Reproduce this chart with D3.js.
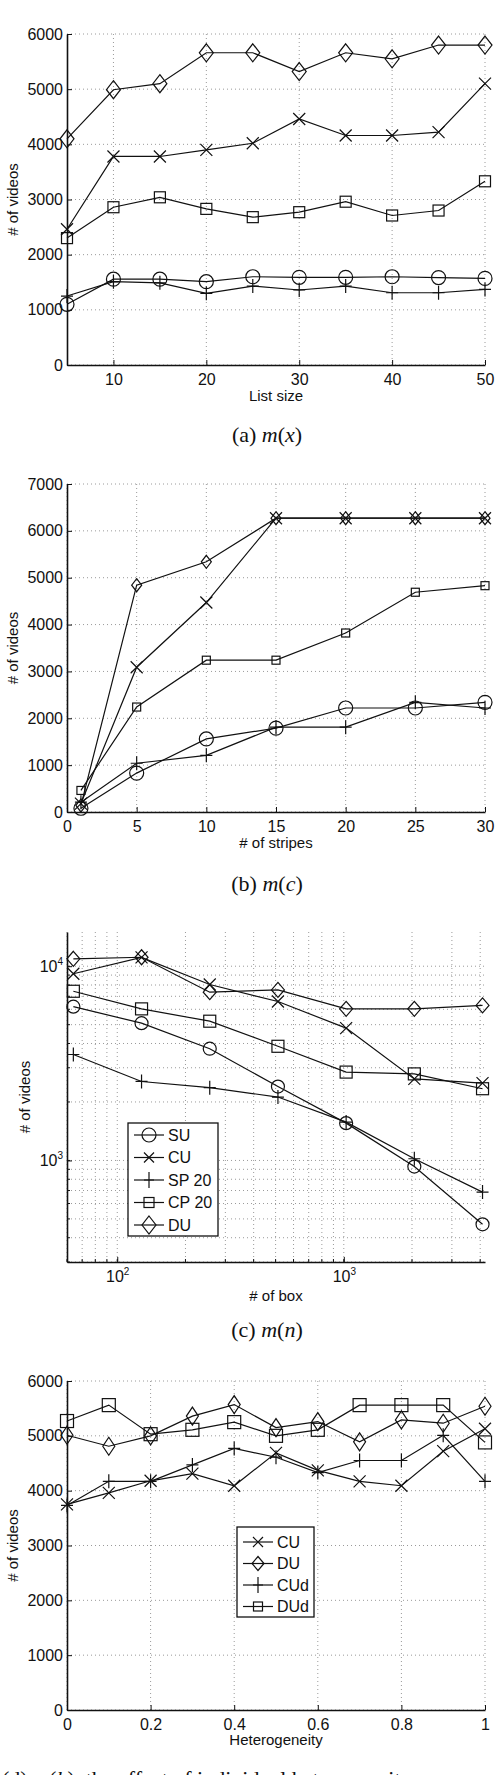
<!DOCTYPE html>
<html>
<head>
<meta charset="utf-8">
<script src="https://cdn.jsdelivr.net/npm/d3@7"></script>
<style>
  body { margin: 0; background: #fff; }
  text { font-family: "Liberation Sans", Arial, sans-serif; fill: #111; }
  .cap { font-family: "Liberation Serif", "DejaVu Serif", serif; }
</style>
</head>
<body>
<script>
// four stacked panels: m(x), m(c), m(n), m(h)

// (a) list size
var listSize = [5, 10, 15, 20, 25, 30, 35, 40, 45, 50];
var a_SU = [1100, 1555, 1555, 1510, 1600, 1590, 1590, 1600, 1585, 1570];
var a_CU = [2460, 3780, 3780, 3900, 4020, 4460, 4160, 4160, 4220, 5100];
var a_SP = [1250, 1510, 1490, 1300, 1430, 1360, 1430, 1310, 1310, 1370];
var a_CP = [2300, 2860, 3040, 2830, 2680, 2770, 2960, 2710, 2800, 3330];
var a_DU = [4100, 4990, 5100, 5660, 5660, 5320, 5660, 5550, 5800, 5800];
var aXTicks = [10, 20, 30, 40, 50];
var aYTicks = [0, 1000, 2000, 3000, 4000, 5000, 6000];

// (b) number of stripes
var stripes = [1, 5, 10, 15, 20, 25, 30];
var b_SU = [80, 830, 1560, 1790, 2220, 2220, 2340];
var b_CU = [180, 3090, 4470, 6270, 6270, 6270, 6270];
var b_SP = [210, 1040, 1210, 1810, 1810, 2340, 2220];
var b_CP = [460, 2240, 3240, 3240, 3820, 4690, 4830];
var b_DU = [140, 4840, 5340, 6270, 6270, 6270, 6270];
var bXTicks = [0, 5, 10, 15, 20, 25, 30];
var bYTicks = [0, 1000, 2000, 3000, 4000, 5000, 6000, 7000];

// (c) number of boxes (log-log)
var boxes = [64, 128, 256, 512, 1024, 2048, 4096];
var c_SU = [6190, 5090, 3760, 2400, 1556, 930, 469];
var c_CU = [9140, 11100, 8050, 6580, 4800, 2630, 2500];
var c_SP = [3510, 2550, 2370, 2120, 1575, 1020, 687];
var c_CP = [7430, 6030, 5210, 3870, 2850, 2790, 2340];
var c_DU = [10920, 11120, 7350, 7550, 6030, 6030, 6280];
var cXTicks = [100, 1000];
var cYTicks = [1000, 10000];

// (d) heterogeneity
var hetero = [0, 0.1, 0.2, 0.3, 0.4, 0.5, 0.6, 0.7, 0.8, 0.9, 1];
var d_CU = [3750, 3960, 4180, 4310, 4090, 4690, 4370, 4170, 4090, 4720, 5130];
var d_DU = [5010, 4810, 5000, 5360, 5570, 5150, 5260, 4890, 5290, 5230, 5540];
var d_CUd = [3730, 4170, 4170, 4470, 4770, 4610, 4330, 4550, 4550, 5010, 4170];
var d_DUd = [5270, 5560, 5030, 5110, 5250, 5000, 5110, 5560, 5560, 5560, 4880];
var dXTicks = [0, 0.2, 0.4, 0.6, 0.8, 1];
var dYTicks = [0, 1000, 2000, 3000, 4000, 5000, 6000];

var W = 496, H = 1775;
var X0 = 67, X1 = 485;

var svg = d3.select("body").append("svg")
    .attr("width", W)
    .attr("height", H);

svg.append("rect").attr("width", W).attr("height", H).attr("fill", "#fff");

// draw one marker shape, sz = [halfWidth, halfHeight]
function marker(g, shape, x, y, sz) {
  var hw = sz[0], hh = sz[1];
  var m = g.append("g").attr("transform", "translate(" + x + "," + y + ")")
      .attr("fill", "none").attr("stroke", "#111").attr("stroke-width", 1.2);
  if (shape == "circle") {
    m.append("circle").attr("r", hw);
  } else if (shape == "x") {
    m.append("path").attr("d", "M" + (-hw) + "," + (-hh) + "L" + hw + "," + hh + "M" + (-hw) + "," + hh + "L" + hw + "," + (-hh));
  } else if (shape == "plus") {
    m.append("path").attr("d", "M" + (-hw) + ",0L" + hw + ",0M0," + (-hh) + "L0," + hh);
  } else if (shape == "square") {
    m.append("rect").attr("x", -hw).attr("y", -hh).attr("width", 2 * hw).attr("height", 2 * hh);
  } else if (shape == "diamond") {
    m.append("path").attr("d", "M0," + (-hh) + "L" + hw + ",0L0," + hh + "L" + (-hw) + ",0Z");
  }
}

function drawPanel(p) {
  var g = svg.append("g");
  var x = p.x, y = p.y;

  // dotted grid
  g.selectAll(".vg").data(p.xGrid).enter().append("line")
    .attr("x1", function(d) { return x(d); }).attr("x2", function(d) { return x(d); })
    .attr("y1", p.top).attr("y2", p.bottom)
    .attr("stroke", "#9a9a9a").attr("stroke-width", 1).attr("stroke-dasharray", "1,3");
  g.selectAll(".hg").data(p.yGrid).enter().append("line")
    .attr("x1", X0).attr("x2", X1)
    .attr("y1", function(d) { return y(d); }).attr("y2", function(d) { return y(d); })
    .attr("stroke", "#9a9a9a").attr("stroke-width", 1).attr("stroke-dasharray", "1,3");

  // axes, ticks pointing inward like matlab
  var xa = d3.axisBottom(x).tickValues(p.xTicks).tickSizeInner(-5).tickSizeOuter(0).tickPadding(9)
      .tickFormat(p.xFormat || d3.format(""));
  var ya = d3.axisLeft(y).tickValues(p.yTicks).tickSizeInner(-5).tickSizeOuter(0).tickPadding(4)
      .tickFormat(p.yFormat || d3.format(""));
  var gx = g.append("g").attr("transform", "translate(0," + p.bottom + ")").call(xa);
  var gy = g.append("g").attr("transform", "translate(" + X0 + ",0)").call(ya);
  [gx, gy].forEach(function(ax) {
    ax.select(".domain").attr("stroke", "#111").attr("stroke-width", 1.6);
    ax.selectAll(".tick line").attr("stroke", "#111").attr("stroke-width", 1);
    ax.selectAll("text").attr("font-size", 16).attr("fill", "#111")
      .attr("font-family", "Liberation Sans, Arial, sans-serif");
  });
  if (p.log) {
    [gx, gy].forEach(function(ax) {
      ax.selectAll(".tick text").each(function(d) {
        var t = d3.select(this);
        t.text("10");
        t.append("tspan").attr("dy", -7).attr("font-size", 10).text(Math.round(Math.log10(d)));
      });
    });
    // minor ticks
    g.selectAll(".mx").data(p.xGrid).enter().append("line")
      .attr("x1", function(d) { return x(d); }).attr("x2", function(d) { return x(d); })
      .attr("y1", p.bottom).attr("y2", p.bottom - 3).attr("stroke", "#111");
    g.selectAll(".my").data(p.yGrid).enter().append("line")
      .attr("x1", X0).attr("x2", X0 + 3)
      .attr("y1", function(d) { return y(d); }).attr("y2", function(d) { return y(d); })
      .attr("stroke", "#111");
  }

  // series
  var line = d3.line().x(function(d) { return x(d[0]); }).y(function(d) { return y(d[1]); });
  p.series.forEach(function(s) {
    var pts = p.xs.map(function(v, i) { return [v, s.values[i]]; });
    g.append("path").datum(pts).attr("d", line)
      .attr("fill", "none").attr("stroke", "#111").attr("stroke-width", 1.2);
    pts.forEach(function(pt) { marker(g, s.shape, x(pt[0]), y(pt[1]), p.sizes[s.shape]); });
  });

  // axis labels
  g.append("text").attr("x", (X0 + X1) / 2).attr("y", p.xLabelY)
    .attr("text-anchor", "middle").attr("font-size", 15).text(p.xLabel);
  g.append("text")
    .attr("transform", "translate(" + p.yLabelX + "," + (p.top + p.bottom) / 2 + ") rotate(-90)")
    .attr("text-anchor", "middle").attr("dy", "0.35em").attr("font-size", 15).text("# of videos");

  // legend
  if (p.legend) {
    var L = p.legend;
    var lg = g.append("g");
    lg.append("rect").attr("x", L.x).attr("y", L.y).attr("width", L.w).attr("height", L.h)
      .attr("fill", "#fff").attr("stroke", "#111").attr("stroke-width", 1.3);
    p.series.forEach(function(s, i) {
      var yy = L.y + L.first + i * L.step;
      lg.append("line").attr("x1", L.x + 6).attr("x2", L.x + 36).attr("y1", yy).attr("y2", yy)
        .attr("stroke", "#111").attr("stroke-width", 1.2);
      marker(lg, s.shape, L.x + 21, yy, L.sizes[s.shape]);
      lg.append("text").attr("x", L.x + 40).attr("y", yy).attr("dy", "0.36em")
        .attr("font-size", 16).text(s.name);
    });
  }

  // caption
  var cap = g.append("text").attr("class", "cap").attr("x", p.capX).attr("y", p.capY)
    .attr("text-anchor", p.capAnchor || "middle").attr("font-size", 22);
  cap.append("tspan").text(p.capLabel + " ");
  cap.append("tspan").attr("font-style", "italic").text("m");
  cap.append("tspan").text("(");
  cap.append("tspan").attr("font-style", "italic").text(p.capVar);
  cap.append("tspan").text(")" + (p.capRest || ""));
}

var bigSizes = { circle: [7, 7], x: [6, 6], plus: [6, 7], square: [5.5, 5.5], diamond: [7, 9] };

// (a)
var ya = d3.scaleLinear().domain([0, 6000]).range([365, 34]);
drawPanel({
  top: 34, bottom: 365,
  x: d3.scaleLinear().domain([5, 50]).range([X0, X1]), y: ya,
  xTicks: aXTicks, yTicks: aYTicks, xGrid: aXTicks, yGrid: aYTicks,
  xs: listSize,
  series: [
    { name: "SU", values: a_SU, shape: "circle" },
    { name: "CU", values: a_CU, shape: "x" },
    { name: "SP 20", values: a_SP, shape: "plus" },
    { name: "CP 20", values: a_CP, shape: "square" },
    { name: "DU", values: a_DU, shape: "diamond" }
  ],
  sizes: bigSizes,
  xLabel: "List size", xLabelY: 401, yLabelX: 13,
  capLabel: "(a)", capVar: "x", capX: 267, capY: 442
});

// (b)
drawPanel({
  top: 484, bottom: 812,
  x: d3.scaleLinear().domain([0, 30]).range([X0, X1]),
  y: d3.scaleLinear().domain([0, 7000]).range([812, 484]),
  xTicks: bXTicks, yTicks: bYTicks, xGrid: bXTicks, yGrid: bYTicks,
  xs: stripes,
  series: [
    { name: "SU", values: b_SU, shape: "circle" },
    { name: "CU", values: b_CU, shape: "x" },
    { name: "SP 20", values: b_SP, shape: "plus" },
    { name: "CP 20", values: b_CP, shape: "square" },
    { name: "DU", values: b_DU, shape: "diamond" }
  ],
  sizes: { circle: [7, 7], x: [6, 6], plus: [6, 7], square: [4, 4], diamond: [5, 6.5] },
  xLabel: "# of stripes", xLabelY: 848, yLabelX: 13,
  capLabel: "(b)", capVar: "c", capX: 267, capY: 891
});

// (c) log-log
var cxGrid = [60, 70, 80, 90, 100, 200, 300, 400, 500, 600, 700, 800, 900, 1000, 2000, 3000, 4000];
var cyGrid = [300, 400, 500, 600, 700, 800, 900, 1000, 2000, 3000, 4000, 5000, 6000, 7000, 8000, 9000, 10000];
drawPanel({
  top: 932, bottom: 1262, log: true,
  x: d3.scaleLog().domain([60, 4200]).range([X0, X1]),
  y: d3.scaleLog().domain([300, 15000]).range([1262, 932]),
  xTicks: cXTicks, yTicks: cYTicks, xGrid: cxGrid, yGrid: cyGrid,
  xs: boxes,
  series: [
    { name: "SU", values: c_SU, shape: "circle" },
    { name: "CU", values: c_CU, shape: "x" },
    { name: "SP 20", values: c_SP, shape: "plus" },
    { name: "CP 20", values: c_CP, shape: "square" },
    { name: "DU", values: c_DU, shape: "diamond" }
  ],
  sizes: { circle: [6.5, 6.5], x: [6, 6], plus: [6, 7], square: [6, 6], diamond: [6.5, 7.5] },
  legend: { x: 128, y: 1123, w: 90, h: 113, first: 12, step: 22.5,
            sizes: { circle: [7, 7], x: [5, 5], plus: [5, 8], square: [5, 5], diamond: [7, 9] } },
  xLabel: "# of box", xLabelY: 1301, yLabelX: 25,
  capLabel: "(c)", capVar: "n", capX: 267, capY: 1337
});

// (d)
drawPanel({
  top: 1381, bottom: 1710,
  x: d3.scaleLinear().domain([0, 1]).range([X0, X1]),
  y: d3.scaleLinear().domain([0, 6000]).range([1710, 1381]),
  xTicks: dXTicks, yTicks: dYTicks, xGrid: dXTicks, yGrid: dYTicks,
  xFormat: function(d) { return d3.format("")(d); },
  xs: hetero,
  series: [
    { name: "CU", values: d_CU, shape: "x" },
    { name: "DU", values: d_DU, shape: "diamond" },
    { name: "CUd", values: d_CUd, shape: "plus" },
    { name: "DUd", values: d_DUd, shape: "square" }
  ],
  sizes: { circle: [7, 7], x: [6, 6], plus: [6, 7], square: [6.5, 6.5], diamond: [6, 9] },
  legend: { x: 237, y: 1527, w: 77, h: 90, first: 15, step: 21.5,
            sizes: { circle: [6, 6], x: [5, 5], plus: [5, 8], square: [4.5, 4.5], diamond: [6, 7] } },
  xLabel: "Heterogeneity", xLabelY: 1745, yLabelX: 13,
  capLabel: "(d)", capVar: "h", capX: 2, capY: 1786, capAnchor: "start",
  capRest: ", the effect of individual heterogeneity on competition"
});
</script>
</body>
</html>
